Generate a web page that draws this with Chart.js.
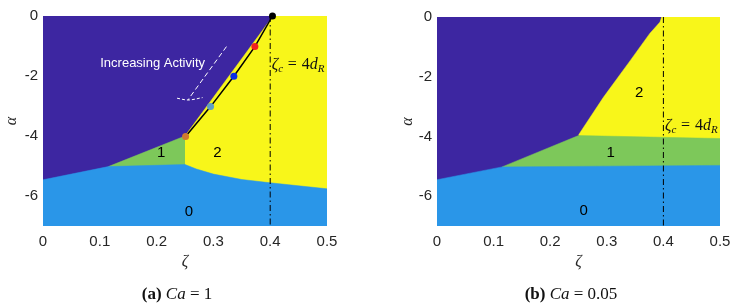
<!DOCTYPE html>
<html>
<head>
<meta charset="utf-8">
<script src="https://cdn.jsdelivr.net/npm/chart.js@4.4.1/dist/chart.umd.min.js"></script>
<style>
  html, body { margin: 0; padding: 0; background: #fff; }
  #wrap { position: relative; width: 739px; height: 304px; overflow: hidden; }
  canvas { position: absolute; top: 0; }
  #ca { left: 0; }
  #cb { left: 370px; }
  .cap { position: absolute; top: 284px; font-family: "Liberation Serif", "Times New Roman", serif; font-size: 17px; color: #111; white-space: nowrap; transform: translateX(-50%); line-height: 20px; }
</style>
</head>
<body>
<div id="wrap">
  <canvas id="ca" width="370" height="304"></canvas>
  <canvas id="cb" width="369" height="304"></canvas>
  <div class="cap" style="left:177px;"><b>(a)</b> <i>Ca</i> = 1</div>
  <div class="cap" style="left:571px;"><b>(b)</b> <i>Ca</i> = 0.05</div>
</div>
<script>
// ---------- shared axis data ----------
const xTicks = [0, 0.1, 0.2, 0.3, 0.4, 0.5];
const xTickLabels = ['0', '0.1', '0.2', '0.3', '0.4', '0.5'];
const yTicks = [0, -2, -4, -6];
const yTickLabels = ['0', '-2', '-4', '-6'];
const zetaRange = [0, 0.5];
const alphaRange = [-7, 0];
const critZeta = 0.4;            // zeta_c = 4 d_R

// ---------- panel (a) Ca = 1 ----------
const aTopZeta = [0, 0.5];
const aTopAlpha = [0, 0];
const aYellowZeta = [0.25, 0.405, 0.5];
const aYellowAlpha = [-4.0, 0, 0];
const aGreenZeta = [0.115, 0.25];
const aGreenAlpha = [-5.02, -4.0];
const aBlueZeta = [0, 0.115, 0.25, 0.27, 0.3, 0.35, 0.4, 0.5];
const aBlueAlpha = [-5.46, -5.02, -4.95, -5.1, -5.27, -5.45, -5.56, -5.76];
const aPathZeta = [0.251, 0.295, 0.336, 0.373, 0.404];
const aPathAlpha = [-4.02, -3.02, -2.01, -1.02, 0];
const aArrowZeta = [0.323, 0.255];
const aArrowAlpha = [-1.02, -2.8];
const aHeadZeta = [0.236, 0.255, 0.281];
const aHeadAlpha = [-2.74, -2.8, -2.72];

// ---------- panel (b) Ca = 0.05 ----------
const bTopZeta = [0, 0.5];
const bTopAlpha = [0, 0];
const bYellowZeta = [0.25, 0.294, 0.341, 0.376, 0.394, 0.397, 0.5];
const bYellowAlpha = [-3.95, -2.69, -1.47, -0.55, -0.17, 0, 0];
const bGreenZeta = [0.115, 0.25, 0.5];
const bGreenAlpha = [-5.02, -3.97, -4.07];
const bBlueZeta = [0, 0.115, 0.5];
const bBlueAlpha = [-5.45, -5.02, -4.97];

// ---------- styles ----------
const C = {
  purple: '#3D26A1',
  yellow: '#F8F61A',
  green: '#7DC85A',
  blue: '#2A96E8',
  tick: '#262626'
};
const pathPointColors = ['#D27B2D', '#5E9EC6', '#0A2CE6', '#F21F1F', '#000000'];

function pts(xs, ys) { return xs.map((x, i) => ({ x: x, y: ys[i] })); }

function region(xs, ys, color, order) {
  return { data: pts(xs, ys), backgroundColor: color, borderColor: color, borderWidth: 0.5,
           fill: 'start', pointRadius: 0, order: order, tension: 0 };
}
function vline(order) {
  return { data: pts([critZeta, critZeta], alphaRange.slice().reverse()), borderColor: '#000', borderWidth: 1,
           borderDash: [6, 3, 1.5, 3], pointRadius: 0, fill: false, order: order };
}

function mathLabel(ctx, x, y, size) {
  // zeta_c = 4 d_R
  ctx.save();
  ctx.fillStyle = '#111';
  ctx.textBaseline = 'alphabetic';
  ctx.textAlign = 'left';
  const it = 'italic ' + size + 'px "Liberation Serif", serif';
  const up = size + 'px "Liberation Serif", serif';
  const sub = 'italic ' + Math.round(size * 0.7) + 'px "Liberation Serif", serif';
  let cx = x;
  ctx.font = it; ctx.fillText('ζ', cx, y); cx += ctx.measureText('ζ').width;
  ctx.font = sub; ctx.fillText('c', cx, y + size * 0.2); cx += ctx.measureText('c').width + size * 0.3;
  ctx.font = up; ctx.fillText('=', cx, y); cx += ctx.measureText('=').width + size * 0.3;
  ctx.fillText('4', cx, y); cx += ctx.measureText('4').width;
  ctx.font = it; ctx.fillText('d', cx, y); cx += ctx.measureText('d').width;
  ctx.font = sub; ctx.fillText('R', cx, y + size * 0.2);
  ctx.restore();
}

function makeLabelPlugin(labels, critAlpha, activity) {
  return {
    id: 'labels',
    afterDatasetsDraw(chart) {
      const ctx = chart.ctx;
      const xs = chart.scales.x, ys = chart.scales.y;
      ctx.save();
      ctx.font = '15px "Liberation Sans", Arial, sans-serif';
      ctx.fillStyle = '#000';
      ctx.textAlign = 'center';
      ctx.textBaseline = 'middle';
      labels.forEach(l => ctx.fillText(l.t, xs.getPixelForValue(l.x), ys.getPixelForValue(l.y)));
      if (activity) {
        ctx.font = '13px "Liberation Sans", Arial, sans-serif';
        ctx.fillStyle = '#fff';
        ctx.fillText(activity.t, xs.getPixelForValue(activity.x), ys.getPixelForValue(activity.y));
      }
      ctx.restore();
      mathLabel(ctx, xs.getPixelForValue(critZeta) + 1.5, ys.getPixelForValue(critAlpha) + 6, 16);
    }
  };
}

function makeChart(id, datasets, yAxisWidth, padRight, padTop, yTitlePad, plugin) {
  return new Chart(document.getElementById(id), {
    type: 'line',
    data: { datasets: datasets },
    options: {
      responsive: false,
      animation: false,
      events: [],
      layout: { padding: { left: 0, right: padRight, top: padTop, bottom: 0 } },
      plugins: { legend: { display: false }, tooltip: { enabled: false } },
      scales: {
        x: {
          type: 'linear', min: zetaRange[0], max: zetaRange[1],
          grid: { display: false, drawTicks: false }, border: { display: false },
          afterBuildTicks: s => { s.ticks = xTicks.map(v => ({ value: v })); },
          afterFit: s => { s.height = 78; },
          ticks: { padding: 7, color: C.tick, font: { family: '"Liberation Sans", Arial, sans-serif', size: 15 },
                   maxRotation: 0, autoSkip: false,
                   callback: (v, i) => xTickLabels[i] },
          title: { display: true, text: 'ζ', color: C.tick,
                   font: { family: '"Liberation Serif", serif', size: 16, style: 'italic' },
                   padding: { top: 0, bottom: 32.4 } }
        },
        y: {
          type: 'linear', min: alphaRange[0], max: alphaRange[1],
          grid: { display: false, drawTicks: false }, border: { display: false },
          afterBuildTicks: s => { s.ticks = yTicks.map(v => ({ value: v })); },
          afterFit: s => { s.width = yAxisWidth; },
          ticks: { padding: 5, color: C.tick, font: { family: '"Liberation Sans", Arial, sans-serif', size: 15 },
                   autoSkip: false,
                   callback: (v, i) => yTickLabels[i] },
          title: { display: true, text: 'α', color: C.tick,
                   font: { family: '"Liberation Serif", serif', size: 16, style: 'italic' },
                   padding: { top: yTitlePad, bottom: 0 } }
        }
      }
    },
    plugins: [plugin]
  });
}

// panel (a)
makeChart('ca', [
  { data: pts(aPathZeta, aPathAlpha), borderColor: '#000', borderWidth: 1.5, fill: false, clip: false,
    pointRadius: 3.5, pointBorderWidth: 0, pointBackgroundColor: pathPointColors, order: 0 },
  vline(1),
  { data: pts(aArrowZeta, aArrowAlpha), borderColor: '#fff', borderWidth: 1, borderDash: [5, 3],
    pointRadius: 0, fill: false, order: 2 },
  { data: pts(aHeadZeta, aHeadAlpha), borderColor: '#fff', borderWidth: 1, borderDash: [3, 2],
    pointRadius: 0, fill: false, order: 2, cubicInterpolationMode: 'monotone', tension: 0.4 },
  region(aBlueZeta, aBlueAlpha, C.blue, 3),
  region(aGreenZeta, aGreenAlpha, C.green, 4),
  region(aYellowZeta, aYellowAlpha, C.yellow, 5),
  region(aTopZeta, aTopAlpha, C.purple, 6)
], 43, 43, 16, 2.4,
  makeLabelPlugin([{ t: '0', x: 0.257, y: -6.53 }, { t: '1', x: 0.208, y: -4.57 }, { t: '2', x: 0.307, y: -4.57 }],
                  -1.57, { t: 'Increasing Activity', x: 0.193, y: -1.57 }));

// panel (b)
makeChart('cb', [
  vline(1),
  region(bBlueZeta, bBlueAlpha, C.blue, 3),
  region(bGreenZeta, bGreenAlpha, C.green, 4),
  region(bYellowZeta, bYellowAlpha, C.yellow, 5),
  region(bTopZeta, bTopAlpha, C.purple, 6)
], 67, 19, 17, 28.4,
  makeLabelPlugin([{ t: '0', x: 0.259, y: -6.5 }, { t: '1', x: 0.307, y: -4.55 }, { t: '2', x: 0.357, y: -2.55 }],
                  -3.57, null));
</script>
</body>
</html>
